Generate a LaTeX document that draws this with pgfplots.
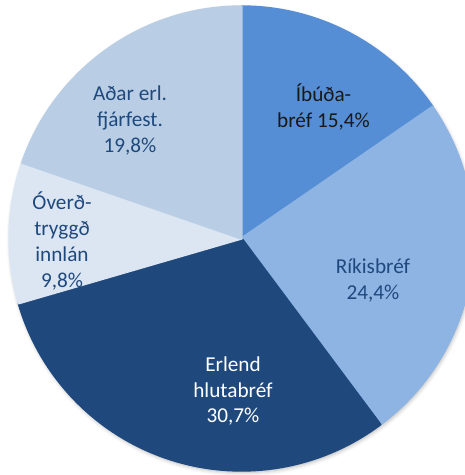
\documentclass[border=0pt]{standalone}
\usepackage{pgfplots}
\pgfplotsset{compat=1.18}
\usepackage{fontspec}
\setmainfont{Carlito}
\usetikzlibrary{shadows.blur}

\definecolor{cIbuda}{HTML}{558ED5}
\definecolor{cRikis}{HTML}{8EB4E3}
\definecolor{cErlend}{HTML}{1F497D}
\definecolor{cOverd}{HTML}{DCE6F2}
\definecolor{cAdar}{HTML}{B9CDE5}
\definecolor{txtnavy}{HTML}{1F497D}

\begin{document}
\begin{tikzpicture}
\useasboundingbox (0,0) rectangle (465bp,475bp);
\clip (0,0) rectangle (465bp,475bp);
\begin{axis}[
  x=1bp, y=1bp, xmin=0, xmax=465, ymin=0, ymax=475,
  hide axis, scale only axis, clip=false,
  at={(0,0)}, anchor=south west,
]
% shares in percent, clockwise from 12 o'clock; 1% = 3.6 degrees
\fill[white, blur shadow={shadow xshift=1bp, shadow yshift=-2bp, shadow opacity=30, shadow blur radius=4bp}]
  (axis cs:241.5,236.5) circle[radius=232bp];
\begin{scope}[draw=white, line width=2.4bp, line join=round]
\filldraw[cIbuda]  (axis cs:241.5,236.5) -- ++(90:232bp)     arc[start angle=90,     delta angle=-15.4*3.6, radius=232bp] -- cycle;
\filldraw[cRikis]  (axis cs:241.5,236.5) -- ++(34.56:232bp)  arc[start angle=34.56,  delta angle=-24.4*3.6, radius=232bp] -- cycle;
\filldraw[cErlend] (axis cs:241.5,236.5) -- ++(-53.28:232bp) arc[start angle=-53.28, delta angle=-30.7*3.6, radius=232bp] -- cycle;
\filldraw[cOverd]  (axis cs:241.5,236.5) -- ++(-163.8:232bp) arc[start angle=-163.8, delta angle=-9.8*3.6,  radius=232bp] -- cycle;
\filldraw[cAdar]   (axis cs:241.5,236.5) -- ++(-199.08:232bp) arc[start angle=-199.08, end angle=-270, radius=232bp] -- cycle;
\end{scope}
\begin{scope}[every node/.style={align=center, font=\fontsize{21.3}{26}\selectfont}]
\node[text=black!90] at (axis cs:323.5,368) {Íbúða-\\bréf 15,4\%};
\node[text=txtnavy]  at (axis cs:373,194.5) {Ríkisbréf\\24,4\%};
\node[text=white]    at (axis cs:233,84)    {Erlend\\hlutabréf\\30,7\%};
\node[text=txtnavy]  at (axis cs:62,234)    {Óverð-\\tryggð\\innlán\\9,8\%};
\node[text=txtnavy]  at (axis cs:130,354.5) {Aðar erl.\\fjárfest.\\19,8\%};
\end{scope}
\end{axis}
\end{tikzpicture}
\end{document}
